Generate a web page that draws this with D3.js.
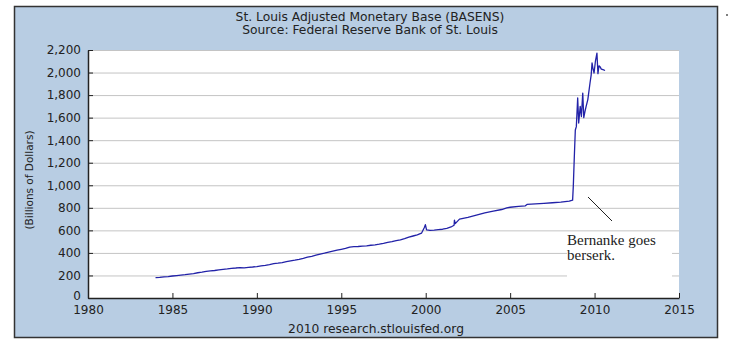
<!DOCTYPE html>
<html><head><meta charset="utf-8">
<script src="https://cdn.jsdelivr.net/npm/d3@7"></script>
<style>body{margin:0;background:#fff}svg{display:block}</style>
</head><body>
<svg id="c" width="732" height="342"></svg>
<script>
const titleLines = ["St. Louis Adjusted Monetary Base (BASENS)", "Source: Federal Reserve Bank of St. Louis"];
const yAxisTitle = "(Billions of Dollars)";
const footer = "2010 research.stlouisfed.org";
const annotationLines = ["Bernanke goes", "berserk."];
const xTicks = [1980, 1985, 1990, 1995, 2000, 2005, 2010, 2015];
const yTicks = [0, 200, 400, 600, 800, 1000, 1200, 1400, 1600, 1800, 2000, 2200];
const years = [1984.0,1984.25,1984.5,1984.75,1985.0,1985.25,1985.5,1985.75,1986.0,1986.25,1986.5,1986.75,
1987.0,1987.25,1987.5,1987.75,1988.0,1988.25,1988.5,1988.75,1989.0,1989.25,1989.5,1989.75,
1990.0,1990.25,1990.5,1990.75,1991.0,1991.25,1991.5,1991.75,1992.0,1992.25,1992.5,1992.75,
1993.0,1993.25,1993.5,1993.75,1994.0,1994.25,1994.5,1994.75,1995.0,1995.25,1995.5,1995.75,
1996.0,1996.25,1996.5,1996.75,1997.0,1997.25,1997.5,1997.75,1998.0,1998.25,1998.5,1998.75,
1999.0,1999.25,1999.5,1999.75,1999.92,1999.98,2000.05,2000.25,2000.5,2000.75,2001.0,2001.25,
2001.5,2001.68,2001.7,2001.75,2002.0,2002.5,2003.0,2003.5,2004.0,2004.5,2004.8,2005.0,2005.5,
2005.9,2006.0,2006.5,2007.0,2007.5,2008.0,2008.5,2008.7,2008.74,2008.8,2008.86,2008.92,2009.0,
2009.06,2009.15,2009.22,2009.3,2009.36,2009.43,2009.5,2009.6,2009.73,2009.8,2009.85,2009.9,
2009.97,2010.05,2010.14,2010.2,2010.26,2010.32,2010.4,2010.5,2010.62];
const values = [180,183,188,190,195,199,203,207,212,217,224,229,
236,240,244,250,254,258,263,266,270,268,272,275,
279,285,290,297,305,309,314,322,330,336,343,352,
362,370,380,390,398,407,416,424,432,440,452,455,
457,460,463,468,472,478,485,494,500,508,515,527,
540,550,560,575,625,650,605,600,602,606,610,618,
630,645,690,660,700,715,735,755,770,785,800,805,812,
818,830,835,840,845,850,860,868,990,1250,1490,1520,1774,
1552,1700,1610,1818,1600,1653,1700,1760,1907,1980,2085,2040,
1996,2100,2173,1990,2060,2052,2030,2025,2018];

const svg = d3.select("#c");
const bg = "#b8cde3";
svg.append("rect").attr("x",14.5).attr("y",6.5).attr("width",703).attr("height",331)
  .attr("fill",bg).attr("stroke","#333").attr("stroke-width",1.5);

const L = 88, R = 679, T = 50, B = 298;
const x = d3.scaleLinear().domain([1980, 2015]).range([L, R]);
const y = d3.scaleLinear().domain([0, 2200]).range([B, T]);

svg.append("rect").attr("x",L).attr("y",T).attr("width",R-L).attr("height",B-T).attr("fill","#fff");

// gridlines
svg.append("g").selectAll("line").data(yTicks.filter(d=>d>0)).join("line")
  .attr("x1",L).attr("x2",R).attr("y1",d=>y(d)+0.5).attr("y2",d=>y(d)+0.5)
  .attr("stroke","#c4c4c4").attr("stroke-width",1);

// annotation white box (breaks gridlines)
svg.append("rect").attr("x",567).attr("y",236).attr("width",105).attr("height",44).attr("fill","#fff");

// series
const line = d3.line().x((d,i)=>x(years[i])).y(d=>y(d));
svg.append("path").datum(values).attr("d",line).attr("fill","none")
  .attr("stroke","#2222a8").attr("stroke-width",1.3).attr("stroke-linejoin","round");

// axes
const font = "'DejaVu Sans', Verdana, sans-serif";
const xa = svg.append("g").attr("transform",`translate(0,${B})`)
  .call(d3.axisBottom(x).tickValues(xTicks).tickFormat(d3.format("d")).tickSizeInner(-5).tickSizeOuter(0).tickPadding(8));
xa.select(".domain").attr("stroke","#222").attr("stroke-width",1.5);
xa.selectAll(".tick line").attr("stroke","#222");
xa.selectAll("text").attr("font-family",font).attr("font-size",12).attr("fill","#222").attr("y",7).attr("dy","0.71em");

const ya = svg.append("g").attr("transform",`translate(${L},0)`)
  .call(d3.axisLeft(y).tickValues(yTicks).tickFormat(d3.format(",")).tickSizeInner(-5).tickSizeOuter(0).tickPadding(7));
ya.select(".domain").attr("stroke","#222").attr("stroke-width",1.5);
ya.selectAll(".tick line").attr("stroke","#222");
ya.selectAll("text").attr("font-family",font).attr("font-size",12).attr("fill","#222");
ya.selectAll(".tick").filter(d=>d===0).select("text").attr("dy","0.15em");

// titles
svg.append("g").selectAll("text").data(titleLines).join("text")
  .attr("x",370).attr("y",(d,i)=>21+i*13).attr("text-anchor","middle")
  .attr("font-family",font).attr("font-size",12.3).attr("fill","#222").text(d=>d);

svg.append("text").attr("transform","translate(33,180) rotate(-90)").attr("text-anchor","middle")
  .attr("font-family",font).attr("font-size",10.5).attr("fill","#222").text(yAxisTitle);

svg.append("text").attr("x",376).attr("y",333).attr("text-anchor","middle")
  .attr("font-family",font).attr("font-size",12.3).attr("fill","#222").text(footer);

// annotation
svg.append("line").attr("x1",588).attr("y1",197).attr("x2",612).attr("y2",221)
  .attr("stroke","#222").attr("stroke-width",1);
svg.append("g").selectAll("text").data(annotationLines).join("text")
  .attr("x",567).attr("y",(d,i)=>245+i*15)
  .attr("font-family","'Liberation Serif', 'Times New Roman', serif").attr("font-size",15).attr("fill","#222").text(d=>d);

svg.append("circle").attr("cx",727).attr("cy",15).attr("r",1).attr("fill","#555");
</script>
</body></html>
